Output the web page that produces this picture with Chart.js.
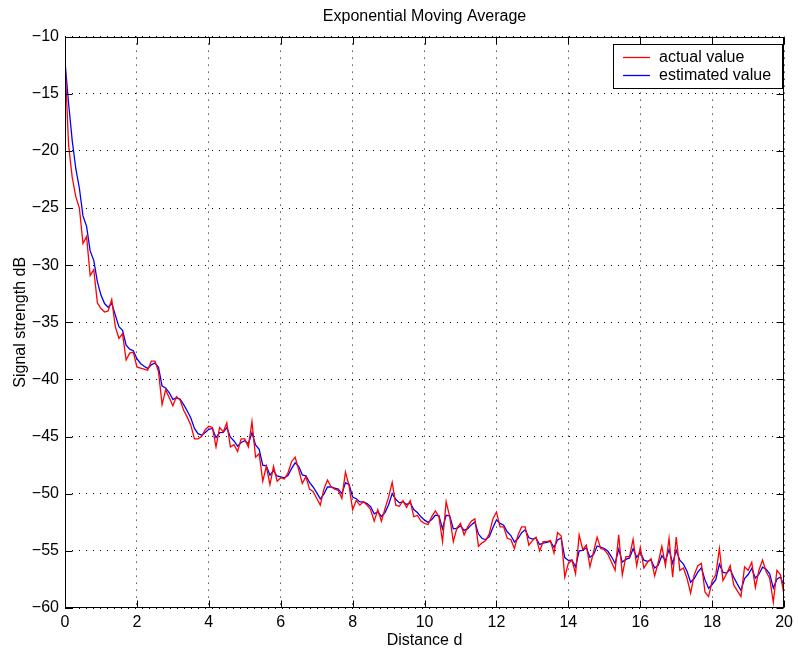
<!DOCTYPE html>
<html><head><meta charset="utf-8">
<script src="https://cdn.jsdelivr.net/npm/chart.js@4.4.0/dist/chart.umd.min.js"></script>
<style>html,body{margin:0;padding:0;background:#fff;}canvas{display:block;}</style>
</head><body>
<canvas id="c" width="798" height="652"></canvas>
<script>
const distances = [
0,0.1,0.2,0.3,0.4,0.5,0.6,0.7,0.8,0.9,
1,1.1,1.2,1.3,1.4,1.5,1.6,1.7,1.8,1.9,
2,2.1,2.2,2.3,2.4,2.5,2.6,2.7,2.8,2.9,
3,3.1,3.2,3.3,3.4,3.5,3.6,3.7,3.8,3.9,
4,4.1,4.2,4.3,4.4,4.5,4.6,4.7,4.8,4.9,
5,5.1,5.2,5.3,5.4,5.5,5.6,5.7,5.8,5.9,
6,6.1,6.2,6.3,6.4,6.5,6.6,6.7,6.8,6.9,
7,7.1,7.2,7.3,7.4,7.5,7.6,7.7,7.8,7.9,
8,8.1,8.2,8.3,8.4,8.5,8.6,8.7,8.8,8.9,
9,9.1,9.2,9.3,9.4,9.5,9.6,9.7,9.8,9.9,
10,10.1,10.2,10.3,10.4,10.5,10.6,10.7,10.8,10.9,
11,11.1,11.2,11.3,11.4,11.5,11.6,11.7,11.8,11.9,
12,12.1,12.2,12.3,12.4,12.5,12.6,12.7,12.8,12.9,
13,13.1,13.2,13.3,13.4,13.5,13.6,13.7,13.8,13.9,
14,14.1,14.2,14.3,14.4,14.5,14.6,14.7,14.8,14.9,
15,15.1,15.2,15.3,15.4,15.5,15.6,15.7,15.8,15.9,
16,16.1,16.2,16.3,16.4,16.5,16.6,16.7,16.8,16.9,
17,17.1,17.2,17.3,17.4,17.5,17.6,17.7,17.8,17.9,
18,18.1,18.2,18.3,18.4,18.5,18.6,18.7,18.8,18.9,
19,19.1,19.2,19.3,19.4,19.5,19.6,19.7,19.8,19.9,
20];
const actualValue = [
-12.2,-19.5,-22.3,-24.0,-25.0,-28.1,-27.5,-30.9,-30.4,-33.3,
-33.8,-34.1,-34.0,-33.0,-35.4,-36.4,-36.0,-38.3,-37.7,-37.6,
-38.9,-39.0,-39.1,-39.2,-38.4,-38.4,-39.3,-42.2,-40.9,-41.6,
-42.3,-41.5,-41.8,-42.7,-43.3,-44.0,-45.2,-45.2,-45.0,-44.4,
-44.1,-44.2,-45.9,-44.2,-44.6,-43.8,-45.9,-45.7,-46.3,-45.2,
-45.2,-45.9,-43.7,-46.8,-46.5,-48.9,-47.6,-49.2,-47.6,-48.9,
-48.6,-48.7,-48.2,-47.2,-46.8,-47.9,-49.1,-48.5,-49.6,-49.8,
-50.4,-51.0,-49.6,-48.8,-49.4,-49.6,-49.7,-50.4,-48.1,-49.3,
-51.4,-50.6,-51.0,-50.7,-51.0,-51.4,-52.4,-51.4,-52.4,-51.3,
-50.3,-49.0,-51.0,-51.1,-50.6,-51.2,-50.6,-52.0,-51.9,-52.4,
-52.6,-52.7,-52.0,-51.5,-52.0,-54.2,-50.7,-52.0,-54.2,-53.0,
-52.6,-53.6,-52.9,-52.4,-52.2,-54.6,-54.3,-54.1,-53.5,-52.2,
-51.6,-52.9,-52.9,-53.9,-54.0,-54.8,-53.6,-52.9,-52.9,-54.5,
-54.1,-53.8,-55.0,-54.2,-54.2,-54.1,-55.2,-53.4,-53.7,-57.3,
-56.1,-55.8,-57.0,-53.6,-54.9,-54.5,-56.4,-55.1,-53.8,-54.8,
-54.9,-55.3,-56.0,-56.7,-53.6,-57.1,-55.5,-55.5,-54.0,-56.3,
-54.7,-56.5,-56.0,-55.7,-57.2,-56.0,-54.6,-56.3,-53.9,-57.3,
-53.8,-56.7,-56.5,-57.4,-58.7,-57.1,-56.3,-56.1,-58.6,-59.0,
-57.6,-57.1,-54.8,-57.6,-57.0,-56.3,-58.0,-58.5,-59.0,-56.4,
-56.7,-56.0,-58.2,-56.7,-55.8,-56.8,-57.4,-59.5,-56.7,-57.1,
-58.9];
const estimatedValue = [
-12.2,-15.85,-19.08,-21.54,-23.27,-25.69,-26.6,-28.75,-29.58,-31.44,
-32.62,-33.36,-33.68,-33.34,-34.37,-35.39,-35.7,-37.0,-37.35,-37.48,
-38.19,-38.6,-38.85,-39.03,-38.72,-38.56,-38.93,-40.57,-40.74,-41.17,
-41.74,-41.62,-41.71,-42.21,-42.76,-43.38,-44.29,-44.75,-44.88,-44.64,
-44.37,-44.29,-45.1,-44.65,-44.63,-44.21,-45.06,-45.38,-45.84,-45.52,
-45.36,-45.63,-44.66,-45.73,-46.12,-47.51,-47.56,-48.38,-47.99,-48.45,
-48.52,-48.61,-48.41,-47.8,-47.3,-47.6,-48.35,-48.43,-49.01,-49.41,
-49.9,-50.45,-50.03,-49.41,-49.41,-49.5,-49.6,-50.0,-49.05,-49.18,
-50.29,-50.44,-50.72,-50.71,-50.86,-51.13,-51.76,-51.58,-51.99,-51.65,
-50.97,-49.99,-50.49,-50.8,-50.7,-50.95,-50.78,-51.39,-51.65,-52.02,
-52.31,-52.51,-52.25,-51.88,-51.94,-53.07,-51.89,-51.94,-53.07,-53.04,
-52.82,-53.21,-53.06,-52.73,-52.47,-53.53,-53.92,-54.01,-53.76,-52.98,
-52.29,-52.6,-52.75,-53.33,-53.66,-54.23,-53.92,-53.41,-53.16,-53.83,
-53.97,-53.88,-54.44,-54.32,-54.26,-54.18,-54.69,-54.05,-53.87,-55.59,
-55.84,-55.82,-56.41,-55.0,-54.95,-54.73,-55.56,-55.33,-54.57,-54.68,
-54.79,-55.04,-55.52,-56.11,-54.85,-55.98,-55.74,-55.62,-54.81,-55.55,
-55.13,-55.81,-55.91,-55.8,-56.5,-56.25,-55.42,-55.86,-54.88,-56.09,
-54.95,-55.82,-56.16,-56.78,-57.74,-57.42,-56.86,-56.48,-57.54,-58.27,
-57.94,-57.52,-56.16,-56.88,-56.94,-56.62,-57.31,-57.91,-58.46,-57.43,
-57.07,-56.54,-57.37,-57.04,-56.42,-56.61,-57.01,-58.26,-57.48,-57.29,
-58.1];
const xTicks = [0,2,4,6,8,10,12,14,16,18,20];
const yTicks = [-60,-55,-50,-45,-40,-35,-30,-25,-20,-15,-10];
const seriesLabels = ['actual value','estimated value'];
const seriesColors = ['#ff0000','#0000ff'];
const chartTitle = 'Exponential Moving Average';

const FAMILY = '"Liberation Sans", Arial, Helvetica, sans-serif';
const FS = 16;
const fmt = v => (v < 0 ? '\u2212' + Math.abs(v) : String(v));

const framePlugin = {
  id: 'frame',
  afterDraw(chart) {
    const {ctx, chartArea: a, scales: {x, y}} = chart;
    ctx.save();
    ctx.setLineDash([]);
    ctx.strokeStyle = '#000';
    ctx.lineWidth = 1;
    const L = Math.round(a.left) + 0.5, R = Math.round(a.right) - 0.5;
    const T = Math.round(a.top) + 0.5, B = Math.round(a.bottom) - 0.5;
    const TL = 7;
    ctx.beginPath();
    xTicks.forEach(v => {
      const p = Math.round(x.getPixelForValue(v)) + 0.5;
      ctx.moveTo(p, B); ctx.lineTo(p, B - TL);
      ctx.moveTo(p, T); ctx.lineTo(p, T + TL);
    });
    yTicks.forEach(v => {
      const p = Math.round(y.getPixelForValue(v)) + 0.5;
      ctx.moveTo(L, p); ctx.lineTo(L + TL, p);
      ctx.moveTo(R, p); ctx.lineTo(R - TL, p);
    });
    ctx.stroke();
    ctx.strokeRect(L, T, R - L, B - T);
    // title centred over the plot area
    ctx.font = FS + 'px ' + FAMILY;
    ctx.fillStyle = '#000';
    ctx.textAlign = 'center';
    ctx.textBaseline = 'middle';
    ctx.fillText(chartTitle, (a.left + a.right) / 2, 17);
    // legend
    const bx = 613.5, by = 44.5, bw = 169, bh = 44;
    ctx.fillStyle = '#fff';
    ctx.fillRect(bx, by, bw, bh);
    ctx.strokeStyle = '#000';
    ctx.strokeRect(bx, by, bw, bh);
    ctx.textBaseline = 'middle';
    ctx.textAlign = 'left';
    ctx.lineWidth = 1.3;
    chart.data.datasets.forEach((ds, i) => {
      const ly = 57 + i * 18;
      ctx.strokeStyle = ds.borderColor;
      ctx.beginPath(); ctx.moveTo(623, ly + 0.5); ctx.lineTo(650, ly + 0.5); ctx.stroke();
      ctx.fillStyle = '#000';
      ctx.fillText(ds.label, 659, ly + 1);
    });
    ctx.restore();
  }
};

new Chart(document.getElementById('c'), {
  type: 'line',
  data: {
    datasets: [
      {label: seriesLabels[0], data: distances.map((d, i) => ({x: d, y: actualValue[i]})),
       borderColor: seriesColors[0], borderWidth: 1.3, pointRadius: 0, tension: 0, fill: false},
      {label: seriesLabels[1], data: distances.map((d, i) => ({x: d, y: estimatedValue[i]})),
       borderColor: seriesColors[1], borderWidth: 1.3, pointRadius: 0, tension: 0, fill: false}
    ]
  },
  options: {
    responsive: false, animation: false, devicePixelRatio: 1,
    layout: {padding: {left: 0, right: 10, top: 36.6, bottom: 0}},
    plugins: {legend: {display: false}, tooltip: {enabled: false}, title: {display: false}},
    scales: {
      x: {
        type: 'linear', min: 0, max: 20,
        afterBuildTicks(s) { s.ticks = xTicks.map(v => ({value: v})); },
        afterFit(s) { s.height = 44; },
        grid: {color: '#000', lineWidth: 1, drawTicks: false},
        border: {display: false, dash: [1, 6]},
        ticks: {padding: 5, color: '#000', font: {family: FAMILY, size: FS}, maxRotation: 0, autoSkip: false, callback: fmt},
        title: {display: true, text: 'Distance d', color: '#000', font: {family: FAMILY, size: FS, lineHeight: 1.2}, padding: {top: 0, bottom: 2}}
      },
      y: {
        type: 'linear', min: -60, max: -10,
        afterBuildTicks(s) { s.ticks = yTicks.map(v => ({value: v})); },
        afterFit(s) { s.width = 65; },
        grid: {color: '#000', lineWidth: 1, drawTicks: false},
        border: {display: false, dash: [1, 6]},
        ticks: {padding: 6, color: '#000', font: {family: FAMILY, size: FS}, autoSkip: false, callback: fmt},
        title: {display: true, text: 'Signal strength dB', color: '#000', font: {family: FAMILY, size: FS, lineHeight: 1.2}, padding: {top: 11, bottom: 0}}
      }
    }
  },
  plugins: [framePlugin]
});
</script>
</body></html>
